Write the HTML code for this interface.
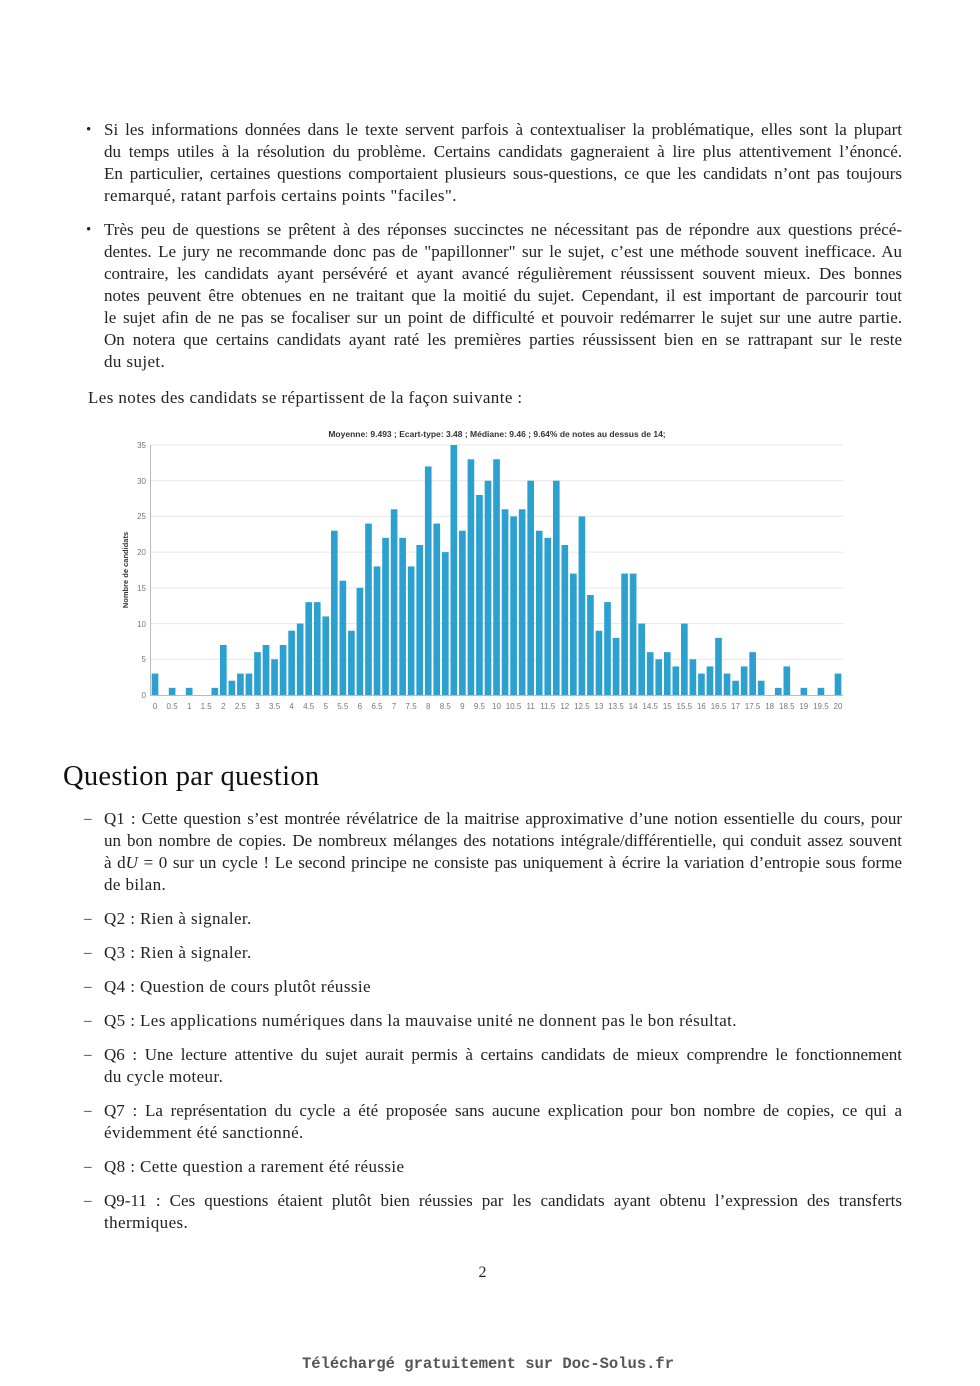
<!DOCTYPE html>
<html><head><meta charset="utf-8"><style>
body{margin:0;background:#fff;width:980px;height:1386px;position:relative;overflow:hidden;font-family:"Liberation Serif",serif;color:#222;}
.l{position:absolute;left:104px;width:798px;font-size:17px;letter-spacing:0.4px;line-height:22px;white-space:nowrap;}
.j{text-align:justify;text-align-last:justify;white-space:normal;letter-spacing:0;}
.b{position:absolute;font-size:15px;line-height:22px;}
</style></head><body>
<div class="b" style="left:86px;top:119px">•</div>
<div class="l j" style="top:119px">Si les informations données dans le texte servent parfois à contextualiser la problématique, elles sont la plupart</div>
<div class="l j" style="top:141px">du temps utiles à la résolution du problème. Certains candidats gagneraient à lire plus attentivement l’énoncé.</div>
<div class="l j" style="top:163px">En particulier, certaines questions comportaient plusieurs sous-questions, ce que les candidats n’ont pas toujours</div>
<div class="l" style="top:185px">remarqué, ratant parfois certains points "faciles".</div>
<div class="b" style="left:86px;top:219px">•</div>
<div class="l j" style="top:219px">Très peu de questions se prêtent à des réponses succinctes ne nécessitant pas de répondre aux questions précé-</div>
<div class="l j" style="top:241px">dentes. Le jury ne recommande donc pas de "papillonner" sur le sujet, c’est une méthode souvent inefficace. Au</div>
<div class="l j" style="top:263px">contraire, les candidats ayant persévéré et ayant avancé régulièrement réussissent souvent mieux. Des bonnes</div>
<div class="l j" style="top:285px">notes peuvent être obtenues en ne traitant que la moitié du sujet. Cependant, il est important de parcourir tout</div>
<div class="l j" style="top:307px">le sujet afin de ne pas se focaliser sur un point de difficulté et pouvoir redémarrer le sujet sur une autre partie.</div>
<div class="l j" style="top:329px">On notera que certains candidats ayant raté les premières parties réussissent bien en se rattrapant sur le reste</div>
<div class="l" style="top:351px">du sujet.</div>
<div class="l" style="left:88px;top:387px">Les notes des candidats se répartissent de la façon suivante :</div>

<svg style="position:absolute;left:0;top:0" width="980" height="720" font-family="Liberation Sans,sans-serif">
<text x="497" y="437" font-size="8.5" font-weight="bold" fill="#333" text-anchor="middle">Moyenne: 9.493 ; Ecart-type: 3.48 ; Médiane: 9.46 ; 9.64% de notes au dessus de 14;</text>
<g stroke="#e6e6e6" stroke-width="1">
<line x1="150" x2="843" y1="445" y2="445"/><line x1="150" x2="843" y1="480.7" y2="480.7"/><line x1="150" x2="843" y1="516.4" y2="516.4"/><line x1="150" x2="843" y1="552.1" y2="552.1"/><line x1="150" x2="843" y1="587.9" y2="587.9"/><line x1="150" x2="843" y1="623.6" y2="623.6"/><line x1="150" x2="843" y1="659.3" y2="659.3"/>
</g>
<line x1="150.5" x2="150.5" y1="445" y2="695" stroke="#bbb"/>
<line x1="150" x2="843" y1="695.5" y2="695.5" stroke="#bbb"/>
<g font-size="8" fill="#777" text-anchor="end">
<text x="146" y="448">35</text><text x="146" y="484">30</text><text x="146" y="519">25</text><text x="146" y="555">20</text><text x="146" y="591">15</text><text x="146" y="627">10</text><text x="146" y="662">5</text><text x="146" y="698">0</text>
</g>
<text transform="translate(128,570) rotate(-90)" font-size="7.5" font-weight="bold" fill="#333" text-anchor="middle">Nombre de candidats</text>
<g transform="translate(151.7,695) scale(8.5375,-7.143)" fill="#2ca1d0">
<rect x="0" width="0.78" height="3"/><rect x="2" width="0.78" height="1"/><rect x="4" width="0.78" height="1"/><rect x="7" width="0.78" height="1"/><rect x="8" width="0.78" height="7"/><rect x="9" width="0.78" height="2"/><rect x="10" width="0.78" height="3"/><rect x="11" width="0.78" height="3"/><rect x="12" width="0.78" height="6"/><rect x="13" width="0.78" height="7"/><rect x="14" width="0.78" height="5"/><rect x="15" width="0.78" height="7"/><rect x="16" width="0.78" height="9"/><rect x="17" width="0.78" height="10"/><rect x="18" width="0.78" height="13"/><rect x="19" width="0.78" height="13"/><rect x="20" width="0.78" height="11"/><rect x="21" width="0.78" height="23"/><rect x="22" width="0.78" height="16"/><rect x="23" width="0.78" height="9"/><rect x="24" width="0.78" height="15"/><rect x="25" width="0.78" height="24"/><rect x="26" width="0.78" height="18"/><rect x="27" width="0.78" height="22"/><rect x="28" width="0.78" height="26"/><rect x="29" width="0.78" height="22"/><rect x="30" width="0.78" height="18"/><rect x="31" width="0.78" height="21"/><rect x="32" width="0.78" height="32"/><rect x="33" width="0.78" height="24"/><rect x="34" width="0.78" height="20"/><rect x="35" width="0.78" height="35"/><rect x="36" width="0.78" height="23"/><rect x="37" width="0.78" height="33"/><rect x="38" width="0.78" height="28"/><rect x="39" width="0.78" height="30"/><rect x="40" width="0.78" height="33"/><rect x="41" width="0.78" height="26"/><rect x="42" width="0.78" height="25"/><rect x="43" width="0.78" height="26"/><rect x="44" width="0.78" height="30"/><rect x="45" width="0.78" height="23"/><rect x="46" width="0.78" height="22"/><rect x="47" width="0.78" height="30"/><rect x="48" width="0.78" height="21"/><rect x="49" width="0.78" height="17"/><rect x="50" width="0.78" height="25"/><rect x="51" width="0.78" height="14"/><rect x="52" width="0.78" height="9"/><rect x="53" width="0.78" height="13"/><rect x="54" width="0.78" height="8"/><rect x="55" width="0.78" height="17"/><rect x="56" width="0.78" height="17"/><rect x="57" width="0.78" height="10"/><rect x="58" width="0.78" height="6"/><rect x="59" width="0.78" height="5"/><rect x="60" width="0.78" height="6"/><rect x="61" width="0.78" height="4"/><rect x="62" width="0.78" height="10"/><rect x="63" width="0.78" height="5"/><rect x="64" width="0.78" height="3"/><rect x="65" width="0.78" height="4"/><rect x="66" width="0.78" height="8"/><rect x="67" width="0.78" height="3"/><rect x="68" width="0.78" height="2"/><rect x="69" width="0.78" height="4"/><rect x="70" width="0.78" height="6"/><rect x="71" width="0.78" height="2"/><rect x="73" width="0.78" height="1"/><rect x="74" width="0.78" height="4"/><rect x="76" width="0.78" height="1"/><rect x="78" width="0.78" height="1"/><rect x="80" width="0.78" height="3"/>
</g>
<g font-size="8" fill="#777" text-anchor="middle">
<text x="155" y="709">0</text><text x="172.1" y="709">0.5</text><text x="189.2" y="709">1</text><text x="206.2" y="709">1.5</text><text x="223.3" y="709">2</text><text x="240.4" y="709">2.5</text><text x="257.5" y="709">3</text><text x="274.6" y="709">3.5</text><text x="291.6" y="709">4</text><text x="308.7" y="709">4.5</text><text x="325.8" y="709">5</text><text x="342.8" y="709">5.5</text><text x="359.9" y="709">6</text><text x="377" y="709">6.5</text><text x="394.1" y="709">7</text><text x="411.1" y="709">7.5</text><text x="428.2" y="709">8</text><text x="445.3" y="709">8.5</text><text x="462.4" y="709">9</text><text x="479.4" y="709">9.5</text><text x="496.5" y="709">10</text><text x="513.6" y="709">10.5</text><text x="530.7" y="709">11</text><text x="547.7" y="709">11.5</text><text x="564.8" y="709">12</text><text x="581.9" y="709">12.5</text><text x="599" y="709">13</text><text x="616" y="709">13.5</text><text x="633.1" y="709">14</text><text x="650.2" y="709">14.5</text><text x="667.3" y="709">15</text><text x="684.3" y="709">15.5</text><text x="701.4" y="709">16</text><text x="718.5" y="709">16.5</text><text x="735.5" y="709">17</text><text x="752.6" y="709">17.5</text><text x="769.7" y="709">18</text><text x="786.8" y="709">18.5</text><text x="803.8" y="709">19</text><text x="820.9" y="709">19.5</text><text x="838" y="709">20</text>
</g>
</svg>

<div style="position:absolute;left:63px;top:761px;font-size:28.5px;line-height:32px;color:#111;letter-spacing:0.3px">Question par question</div>
<div class="b" style="left:84px;top:808px">–</div>
<div class="l j" style="top:808px">Q1 : Cette question s’est montrée révélatrice de la maitrise approximative d’une notion essentielle du cours, pour</div>
<div class="l j" style="top:830px">un bon nombre de copies. De nombreux mélanges des notations intégrale/différentielle, qui conduit assez souvent</div>
<div class="l j" style="top:852px">à d<i>U</i> = 0 sur un cycle ! Le second principe ne consiste pas uniquement à écrire la variation d’entropie sous forme</div>
<div class="l" style="top:874px">de bilan.</div>
<div class="b" style="left:84px;top:908px">–</div><div class="l" style="top:908px">Q2 : Rien à signaler.</div>
<div class="b" style="left:84px;top:942px">–</div><div class="l" style="top:942px">Q3 : Rien à signaler.</div>
<div class="b" style="left:84px;top:976px">–</div><div class="l" style="top:976px">Q4 : Question de cours plutôt réussie</div>
<div class="b" style="left:84px;top:1010px">–</div><div class="l" style="top:1010px">Q5 : Les applications numériques dans la mauvaise unité ne donnent pas le bon résultat.</div>
<div class="b" style="left:84px;top:1044px">–</div>
<div class="l j" style="top:1044px">Q6 : Une lecture attentive du sujet aurait permis à certains candidats de mieux comprendre le fonctionnement</div>
<div class="l" style="top:1066px">du cycle moteur.</div>
<div class="b" style="left:84px;top:1100px">–</div>
<div class="l j" style="top:1100px">Q7 : La représentation du cycle a été proposée sans aucune explication pour bon nombre de copies, ce qui a</div>
<div class="l" style="top:1122px">évidemment été sanctionné.</div>
<div class="b" style="left:84px;top:1156px">–</div><div class="l" style="top:1156px">Q8 : Cette question a rarement été réussie</div>
<div class="b" style="left:84px;top:1190px">–</div>
<div class="l j" style="top:1190px">Q9-11 : Ces questions étaient plutôt bien réussies par les candidats ayant obtenu l’expression des transferts</div>
<div class="l" style="top:1212px">thermiques.</div>
<div style="position:absolute;left:0;width:965px;text-align:center;top:1262px;font-size:16px;line-height:22px">2</div>
<div style="position:absolute;left:0;width:976px;text-align:center;top:1355px;font-family:'Liberation Mono',monospace;font-size:15.5px;font-weight:bold;color:#555">Téléchargé gratuitement sur Doc-Solus.fr</div>
</body></html>
